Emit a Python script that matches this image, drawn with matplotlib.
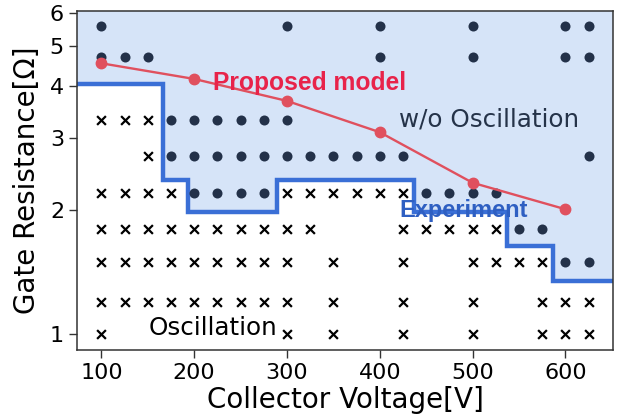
import numpy as np
import matplotlib
matplotlib.use("Agg")
import matplotlib.pyplot as plt
from matplotlib.ticker import FixedLocator, NullLocator, ScalarFormatter

# Measured gate resistances (E12 values) and the voltages tested at each one
r_rows = [5.6, 4.7, 3.3, 2.7, 2.2, 1.8, 1.5, 1.2, 1.0]
stable_v = [
    [100, 300, 400, 500, 600, 625],
    [100, 125, 150, 400, 500, 600, 625],
    [175, 200, 225, 250, 275, 300],
    [175, 200, 225, 250, 275, 300, 325, 350, 375, 400, 425, 625],
    [200, 225, 250, 275, 450, 475, 500, 525],
    [550, 575],
    [600, 625],
    [],
    [],
]
osc_v = [
    [],
    [],
    [100, 125, 150],
    [150],
    [100, 125, 150, 175, 300, 325, 350, 375, 400, 425],
    [100, 125, 150, 175, 200, 225, 250, 275, 300, 325, 425, 450, 475, 500, 525],
    [100, 125, 150, 175, 200, 225, 250, 275, 300, 350, 425, 500, 525, 550, 575],
    [100, 125, 150, 175, 200, 225, 250, 275, 300, 350, 425, 500, 575, 600, 625],
    [100, 300, 350, 425, 500, 575, 600, 625],
]

# Experimental stability boundary (step, post)
exp_v = [74, 166, 193, 289, 437, 537, 587, 651]
exp_r = [4.05, 2.37, 1.98, 2.37, 1.98, 1.64, 1.35, 1.35]

# Proposed model prediction
model_v = [100, 200, 300, 400, 500, 600]
model_r = [4.54, 4.16, 3.68, 3.09, 2.33, 2.01]

XLIM = (74, 651)
YLIM = (0.916, 6.09)

fig = plt.figure(figsize=(6.23, 4.19), dpi=100)
ax = fig.add_axes([0.124, 0.1647, 0.9835 - 0.124, 0.9745 - 0.1647])
ax.set_yscale("log")

# stable region shading above the measured boundary
ax.fill_between(exp_v, exp_r, YLIM[1], step="post", color="#d6e4f8",
                linewidth=0, zorder=1)
ax.step(exp_v, exp_r, where="post", color="#3a6fd6", lw=3.2, zorder=2,
        solid_joinstyle="miter")

for r, dv, cv in zip(r_rows, stable_v, osc_v):
    if dv:
        ax.scatter(dv, [r] * len(dv), s=52, color="#233149", zorder=3,
                   linewidths=0)
    if cv:
        ax.scatter(cv, [r] * len(cv), s=40, marker="x", color="black",
                   linewidths=1.6, zorder=3)

ax.plot(model_v, model_r, color="#e0505e", lw=1.7, marker="o", ms=7.5,
        zorder=4)

ax.text(220, 3.91, "Proposed model", color="#e8234a", fontsize=17.7,
        fontweight="bold", family="Liberation Sans", va="baseline",
        ha="left", zorder=6)
ax.text(421, 1.93, "Experiment", color="#2e5fc2", fontsize=17,
        fontweight="bold", family="Liberation Sans", va="baseline",
        ha="left", zorder=6)
ax.text(421, 3.19, "w/o Oscillation", color="#253349", fontsize=17.7,
        va="baseline", ha="left", zorder=6)
ax.text(151, 0.996, "Oscillation", color="black", fontsize=17.7,
        va="baseline", ha="left", zorder=6,
        bbox=dict(facecolor="white", edgecolor="none", pad=1.5))

ax.set_xlim(*XLIM)
ax.set_ylim(*YLIM)
ax.set_xticks([100, 200, 300, 400, 500, 600])
ax.yaxis.set_major_locator(FixedLocator([1, 2, 3, 4, 5, 6]))
ax.yaxis.set_major_formatter(ScalarFormatter())
ax.yaxis.set_minor_locator(NullLocator())
ax.tick_params(labelsize=16, length=6, width=1, color="#333333")
for s in ax.spines.values():
    s.set_color("#333333")
    s.set_linewidth(1.1)

ax.set_xlabel("Collector Voltage[V]", fontsize=20, labelpad=2)
ax.set_ylabel("Gate Resistance[Ω]", fontsize=20, labelpad=6)

fig.savefig("out.png", dpi=100, facecolor="white")
